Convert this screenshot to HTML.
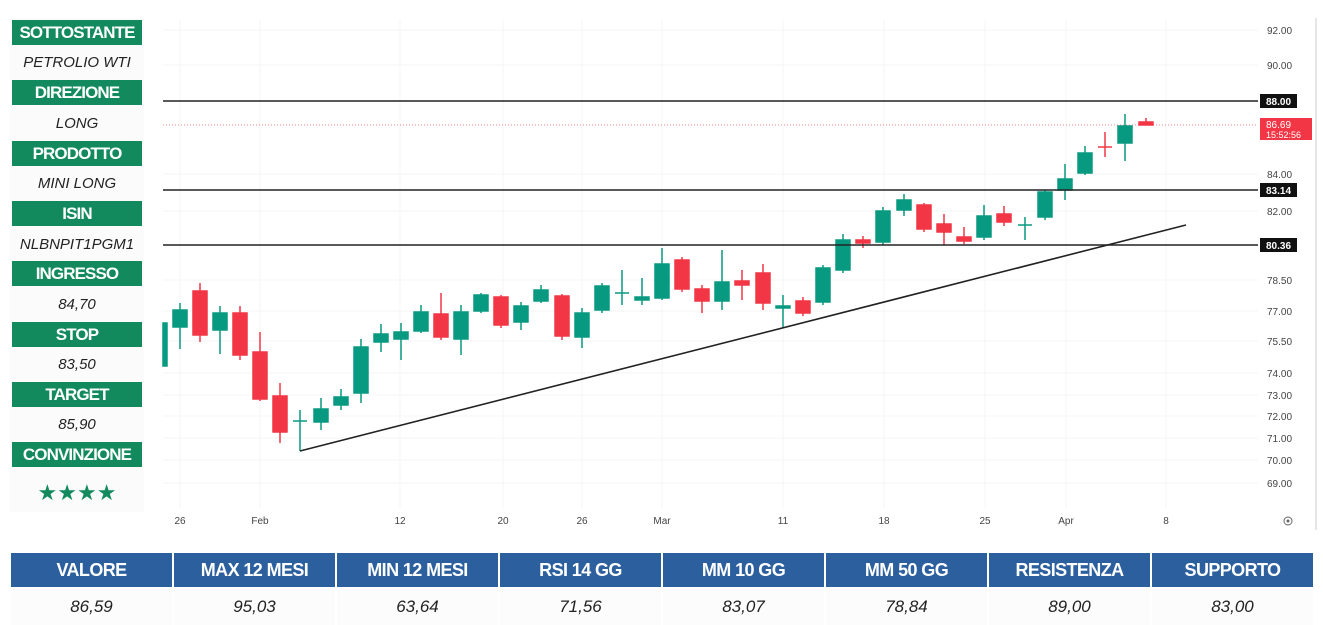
<!DOCTYPE html>
<html><head><meta charset="utf-8"><style>
body{margin:0;width:1323px;height:625px;background:#fff;position:relative;overflow:hidden;font-family:"Liberation Sans",sans-serif}
.lp{position:absolute;left:10px;top:18px;width:134px;height:494px;background:#fbfbfb}
.h{position:absolute;left:12px;width:130px;height:25px;background:#138a5e;color:#fff;font-weight:bold;font-size:17px;letter-spacing:-0.9px;text-align:center;line-height:25px}
.v{position:absolute;left:12px;width:130px;height:30px;color:#222;font-style:italic;font-size:15px;text-align:center;line-height:30px}
.th{position:absolute;top:553px;height:34px;width:161px;background:#2b5f9e;color:#fff;font-weight:bold;font-size:18px;letter-spacing:-0.6px;text-align:center;line-height:34px}
.td{position:absolute;top:588px;height:37px;width:161px;background:#fcfcfc;color:#222;font-style:italic;font-size:17px;text-align:center;line-height:37px}
svg{position:absolute;left:0;top:0}
</style></head><body>
<div class="lp"></div>
<div class="h" style="top:20px">SOTTOSTANTE</div><div class="v" style="top:48px">PETROLIO WTI</div>
<div class="h" style="top:80px">DIREZIONE</div><div class="v" style="top:109px">LONG</div>
<div class="h" style="top:141px">PRODOTTO</div><div class="v" style="top:169px">MINI LONG</div>
<div class="h" style="top:201px">ISIN</div><div class="v" style="top:230px">NLBNPIT1PGM1</div>
<div class="h" style="top:261px">INGRESSO</div><div class="v" style="top:290px">84,70</div>
<div class="h" style="top:322px">STOP</div><div class="v" style="top:350px">83,50</div>
<div class="h" style="top:382px">TARGET</div><div class="v" style="top:410px">85,90</div>
<div class="h" style="top:442px">CONVINZIONE</div><div class="v" style="top:478px;color:#138a5e;font-style:normal;font-size:22px;letter-spacing:0">★★★★</div>

<svg width="1323" height="540" viewBox="0 0 1323 540">
<g stroke="#f4f5f7" stroke-width="1">
<line x1="180" y1="20" x2="180" y2="508"/><line x1="260" y1="20" x2="260" y2="508"/><line x1="400" y1="20" x2="400" y2="508"/><line x1="503" y1="20" x2="503" y2="508"/><line x1="582" y1="20" x2="582" y2="508"/><line x1="662" y1="20" x2="662" y2="508"/><line x1="783" y1="20" x2="783" y2="508"/><line x1="884" y1="20" x2="884" y2="508"/><line x1="985" y1="20" x2="985" y2="508"/><line x1="1066" y1="20" x2="1066" y2="508"/><line x1="1166" y1="20" x2="1166" y2="508"/>
<line x1="163" y1="30" x2="1258" y2="30"/><line x1="163" y1="65" x2="1258" y2="65"/><line x1="163" y1="174" x2="1258" y2="174"/><line x1="163" y1="211" x2="1258" y2="211"/><line x1="163" y1="280" x2="1258" y2="280"/><line x1="163" y1="311" x2="1258" y2="311"/><line x1="163" y1="341" x2="1258" y2="341"/><line x1="163" y1="373" x2="1258" y2="373"/><line x1="163" y1="395" x2="1258" y2="395"/><line x1="163" y1="416" x2="1258" y2="416"/><line x1="163" y1="438" x2="1258" y2="438"/><line x1="163" y1="460" x2="1258" y2="460"/><line x1="163" y1="483" x2="1258" y2="483"/>
</g>
<line x1="1316" y1="18" x2="1316" y2="530" stroke="#e6e6e6" stroke-width="2"/>
<line x1="163" y1="125" x2="1258" y2="125" stroke="#e88" stroke-width="1" stroke-dasharray="1,2"/>
<g stroke-width="1.5">
<g stroke="#089981" fill="#089981">
<rect x="163" y="323" width="4" height="43"/>
<line x1="180" y1="303" x2="180" y2="349"/><rect x="173" y="310" width="14" height="17"/>
<line x1="220" y1="306" x2="220" y2="354"/><rect x="213" y="313" width="14" height="17"/>
<line x1="300" y1="410" x2="300" y2="451"/><line x1="293" y1="421" x2="307" y2="421"/>
<line x1="321" y1="398" x2="321" y2="430"/><rect x="314" y="409" width="14" height="13"/>
<line x1="341" y1="389" x2="341" y2="410"/><rect x="334" y="397" width="14" height="8"/>
<line x1="361" y1="339" x2="361" y2="403"/><rect x="354" y="347" width="14" height="46"/>
<line x1="381" y1="324" x2="381" y2="352"/><rect x="374" y="334" width="14" height="8"/>
<line x1="401" y1="323" x2="401" y2="360"/><rect x="394" y="332" width="14" height="7"/>
<line x1="421" y1="305" x2="421" y2="333"/><rect x="414" y="312" width="14" height="19"/>
<line x1="461" y1="305" x2="461" y2="355"/><rect x="454" y="312" width="14" height="27"/>
<line x1="481" y1="293" x2="481" y2="313"/><rect x="474" y="295" width="14" height="16"/>
<line x1="521" y1="302" x2="521" y2="330"/><rect x="514" y="306" width="14" height="16"/>
<line x1="541" y1="285" x2="541" y2="303"/><rect x="534" y="290" width="14" height="11"/>
<line x1="582" y1="308" x2="582" y2="348"/><rect x="575" y="313" width="14" height="24"/>
<line x1="602" y1="283" x2="602" y2="313"/><rect x="595" y="286" width="14" height="24"/>
<line x1="622" y1="270" x2="622" y2="305"/><line x1="615" y1="293" x2="629" y2="293"/>
<line x1="642" y1="278" x2="642" y2="305"/><rect x="635" y="297" width="14" height="3"/>
<line x1="662" y1="248" x2="662" y2="300"/><rect x="655" y="264" width="14" height="34"/>
<line x1="722" y1="250" x2="722" y2="310"/><rect x="715" y="282" width="14" height="19"/>
<line x1="783" y1="295" x2="783" y2="328"/><rect x="776" y="306" width="14" height="2"/>
<line x1="823" y1="265" x2="823" y2="305"/><rect x="816" y="268" width="14" height="34"/>
<line x1="843" y1="234" x2="843" y2="273"/><rect x="836" y="240" width="14" height="30"/>
<line x1="883" y1="207" x2="883" y2="245"/><rect x="876" y="211" width="14" height="31"/>
<line x1="904" y1="194" x2="904" y2="216"/><rect x="897" y="200" width="14" height="10"/>
<line x1="984" y1="205" x2="984" y2="240"/><rect x="977" y="216" width="14" height="21"/>
<line x1="1025" y1="217" x2="1025" y2="240"/><line x1="1018" y1="225" x2="1032" y2="225"/>
<line x1="1045" y1="190" x2="1045" y2="220"/><rect x="1038" y="192" width="14" height="25"/>
<line x1="1065" y1="164" x2="1065" y2="200"/><rect x="1058" y="179" width="14" height="11"/>
<line x1="1085" y1="146" x2="1085" y2="175"/><rect x="1078" y="153" width="14" height="20"/>
<line x1="1125" y1="114" x2="1125" y2="161"/><rect x="1118" y="126" width="14" height="17"/>
</g>
<g stroke="#f23645" fill="#f23645">
<line x1="200" y1="283" x2="200" y2="342"/><rect x="193" y="291" width="14" height="44"/>
<line x1="240" y1="306" x2="240" y2="360"/><rect x="233" y="313" width="14" height="42"/>
<line x1="260" y1="332" x2="260" y2="401"/><rect x="253" y="352" width="14" height="47"/>
<line x1="280" y1="383" x2="280" y2="443"/><rect x="273" y="396" width="14" height="36"/>
<line x1="441" y1="293" x2="441" y2="340"/><rect x="434" y="314" width="14" height="23"/>
<line x1="501" y1="295" x2="501" y2="328"/><rect x="494" y="297" width="14" height="28"/>
<line x1="562" y1="294" x2="562" y2="340"/><rect x="555" y="296" width="14" height="40"/>
<line x1="682" y1="257" x2="682" y2="292"/><rect x="675" y="260" width="14" height="29"/>
<line x1="702" y1="285" x2="702" y2="313"/><rect x="695" y="289" width="14" height="12"/>
<line x1="742" y1="270" x2="742" y2="300"/><rect x="735" y="281" width="14" height="4"/>
<line x1="763" y1="264" x2="763" y2="310"/><rect x="756" y="273" width="14" height="30"/>
<line x1="803" y1="297" x2="803" y2="316"/><rect x="796" y="301" width="14" height="12"/>
<line x1="863" y1="236" x2="863" y2="248"/><rect x="856" y="240" width="14" height="3"/>
<line x1="924" y1="203" x2="924" y2="232"/><rect x="917" y="205" width="14" height="24"/>
<line x1="944" y1="214" x2="944" y2="245"/><rect x="937" y="224" width="14" height="8"/>
<line x1="964" y1="227" x2="964" y2="244"/><rect x="957" y="237" width="14" height="4"/>
<line x1="1004" y1="206" x2="1004" y2="226"/><rect x="997" y="214" width="14" height="8"/>
<line x1="1105" y1="132" x2="1105" y2="157"/><line x1="1098" y1="147" x2="1112" y2="147"/>
<line x1="1146" y1="118" x2="1146" y2="125"/><rect x="1139" y="122" width="14" height="3"/>
</g>
</g>
<g stroke="#222" stroke-width="1.6">
<line x1="163" y1="101" x2="1258" y2="101"/><line x1="163" y1="190" x2="1258" y2="190"/><line x1="163" y1="245" x2="1258" y2="245"/>
<line x1="300" y1="451" x2="1186" y2="225"/>
</g>
<g font-size="10" fill="#444" font-family="Liberation Sans,sans-serif">
<text x="1267" y="34">92.00</text><text x="1267" y="69">90.00</text><text x="1267" y="178">84.00</text><text x="1267" y="215">82.00</text><text x="1267" y="284">78.50</text><text x="1267" y="315">77.00</text><text x="1267" y="345">75.50</text><text x="1267" y="377">74.00</text><text x="1267" y="399">73.00</text><text x="1267" y="420">72.00</text><text x="1267" y="442">71.00</text><text x="1267" y="464">70.00</text><text x="1267" y="487">69.00</text>
<g text-anchor="middle"><text x="180" y="524">26</text><text x="260" y="524">Feb</text><text x="400" y="524">12</text><text x="503" y="524">20</text><text x="582" y="524">26</text><text x="662" y="524">Mar</text><text x="783" y="524">11</text><text x="884" y="524">18</text><text x="985" y="524">25</text><text x="1066" y="524">Apr</text><text x="1166" y="524">8</text></g>
</g>
<rect x="1260" y="94" width="37" height="14" fill="#111"/><text x="1266" y="105" font-size="10" fill="#fff" font-weight="bold">88.00</text>
<rect x="1260" y="183" width="37" height="14" fill="#111"/><text x="1266" y="194" font-size="10" fill="#fff" font-weight="bold">83.14</text>
<rect x="1260" y="238" width="37" height="14" fill="#111"/><text x="1266" y="249" font-size="10" fill="#fff" font-weight="bold">80.36</text>
<rect x="1260" y="118" width="52" height="22" fill="#f23645"/><text x="1266" y="128" font-size="10" fill="#fff">86.69</text><text x="1266" y="138" font-size="9" fill="#fff">15:52:56</text>
<circle cx="1288" cy="521" r="4" fill="none" stroke="#666"/><circle cx="1288" cy="521" r="1.5" fill="#666"/>
</svg>

<div class="th" style="left:11px">VALORE</div><div class="td" style="left:11px">86,59</div>
<div class="th" style="left:174px">MAX 12 MESI</div><div class="td" style="left:174px">95,03</div>
<div class="th" style="left:337px">MIN 12 MESI</div><div class="td" style="left:337px">63,64</div>
<div class="th" style="left:500px">RSI 14 GG</div><div class="td" style="left:500px">71,56</div>
<div class="th" style="left:663px">MM 10 GG</div><div class="td" style="left:663px">83,07</div>
<div class="th" style="left:826px">MM 50 GG</div><div class="td" style="left:826px">78,84</div>
<div class="th" style="left:989px">RESISTENZA</div><div class="td" style="left:989px">89,00</div>
<div class="th" style="left:1152px">SUPPORTO</div><div class="td" style="left:1152px">83,00</div>
</body></html>
